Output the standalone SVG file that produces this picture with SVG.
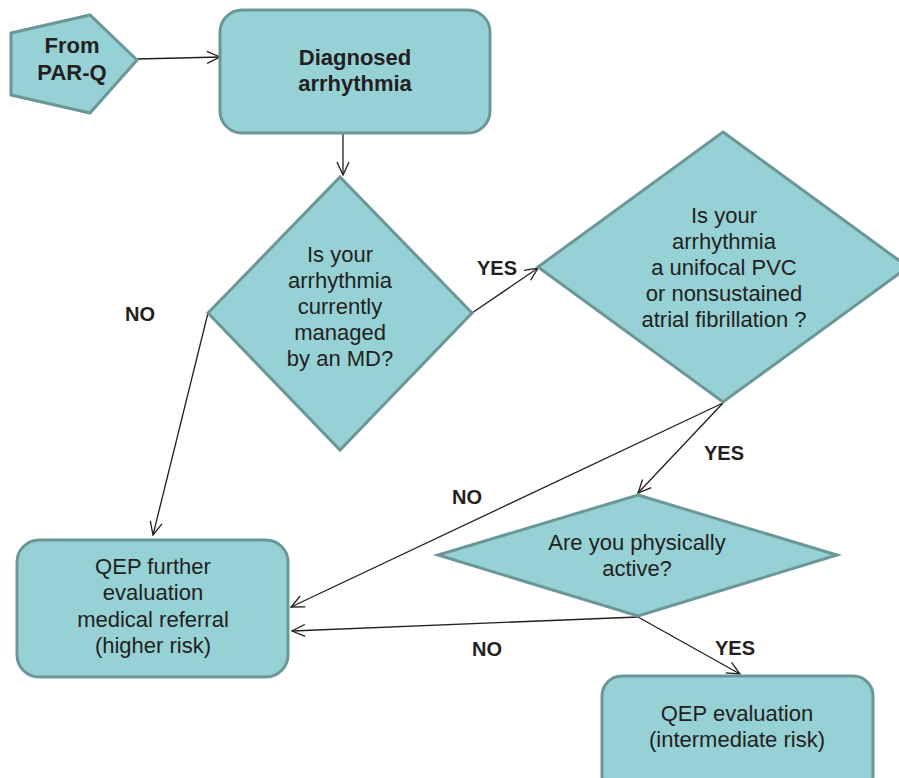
<svg xmlns="http://www.w3.org/2000/svg" width="899" height="778" viewBox="0 0 899 778">
<defs>
<style>
.shape{fill:#96d1d5;stroke:#6c9799;stroke-width:3;stroke-linejoin:miter}
.t{font-family:"Liberation Sans",Arial,sans-serif;font-size:22px;fill:#231f20;text-anchor:middle}
.b{font-weight:bold}
.lbl{font-family:"Liberation Sans",Arial,sans-serif;font-size:20px;font-weight:bold;fill:#231f20;text-anchor:middle}
.c{fill:none;stroke:#231f20;stroke-width:1.3;marker-end:url(#arr)}
</style>
<marker id="arr" markerUnits="userSpaceOnUse" markerWidth="16" markerHeight="16" viewBox="0 0 16 16" refX="15" refY="8" orient="auto">
<path d="M2,2 L15,8 L2,14" fill="none" stroke="#231f20" stroke-width="1.3"/>
</marker>
</defs>
<rect width="899" height="778" fill="#ffffff"/>
<g id="connectors">
<line class="c" x1="137" y1="59" x2="220" y2="57"/>
<line class="c" x1="343" y1="134" x2="343" y2="175"/>
<line class="c" x1="208" y1="313" x2="153" y2="535"/>
<line class="c" x1="472" y1="313" x2="538" y2="268"/>
<line class="c" x1="723" y1="403" x2="291" y2="607"/>
<line class="c" x1="723" y1="403" x2="638" y2="493"/>
<line class="c" x1="638" y1="617" x2="292" y2="631"/>
<line class="c" x1="638" y1="617" x2="740" y2="674"/>
</g>
<g id="labels">
<text class="lbl" x="140" y="321">NO</text>
<text class="lbl" x="497" y="275">YES</text>
<text class="lbl" x="467" y="504">NO</text>
<text class="lbl" x="724" y="460">YES</text>
<text class="lbl" x="487" y="656">NO</text>
<text class="lbl" x="735" y="655">YES</text>
</g>
<g id="from-parq">
<polygon class="shape" points="11,33 90,15 137,60 90,113 11,95"/>
<text class="t b" x="72" y="53">From</text>
<text class="t b" x="72" y="80">PAR-Q</text>
</g>
<g id="diagnosed">
<rect class="shape" x="220" y="10" width="270" height="123" rx="22"/>
<text class="t b" x="355" y="65">Diagnosed</text>
<text class="t b" x="355" y="91">arrhythmia</text>
</g>
<g id="managed">
<polygon class="shape" points="340,177 472,313 340,450 208,313"/>
<text class="t" x="340" y="262">Is your</text>
<text class="t" x="340" y="288">arrhythmia</text>
<text class="t" x="340" y="314">currently</text>
<text class="t" x="340" y="340">managed</text>
<text class="t" x="340" y="366">by an MD?</text>
</g>
<g id="unifocal">
<polygon class="shape" points="723,132 908,267 723,402 538,267"/>
<text class="t" x="724" y="223">Is your</text>
<text class="t" x="724" y="249">arrhythmia</text>
<text class="t" x="724" y="275">a unifocal PVC</text>
<text class="t" x="724" y="301">or nonsustained</text>
<text class="t" x="724" y="327">atrial fibrillation ?</text>
</g>
<g id="active">
<polygon class="shape" points="638,495 837,555 638,616 438,555"/>
<text class="t" x="637" y="550">Are you physically</text>
<text class="t" x="637" y="576">active?</text>
</g>
<g id="higher-risk">
<rect class="shape" x="17" y="540" width="271" height="137" rx="22"/>
<text class="t" x="153" y="574">QEP further</text>
<text class="t" x="153" y="600">evaluation</text>
<text class="t" x="153" y="627">medical referral</text>
<text class="t" x="153" y="653">(higher risk)</text>
</g>
<g id="intermediate-risk">
<rect class="shape" x="602" y="676" width="271" height="120" rx="20"/>
<text class="t" x="737" y="721">QEP evaluation</text>
<text class="t" x="737" y="747">(intermediate risk)</text>
</g>
</svg>
